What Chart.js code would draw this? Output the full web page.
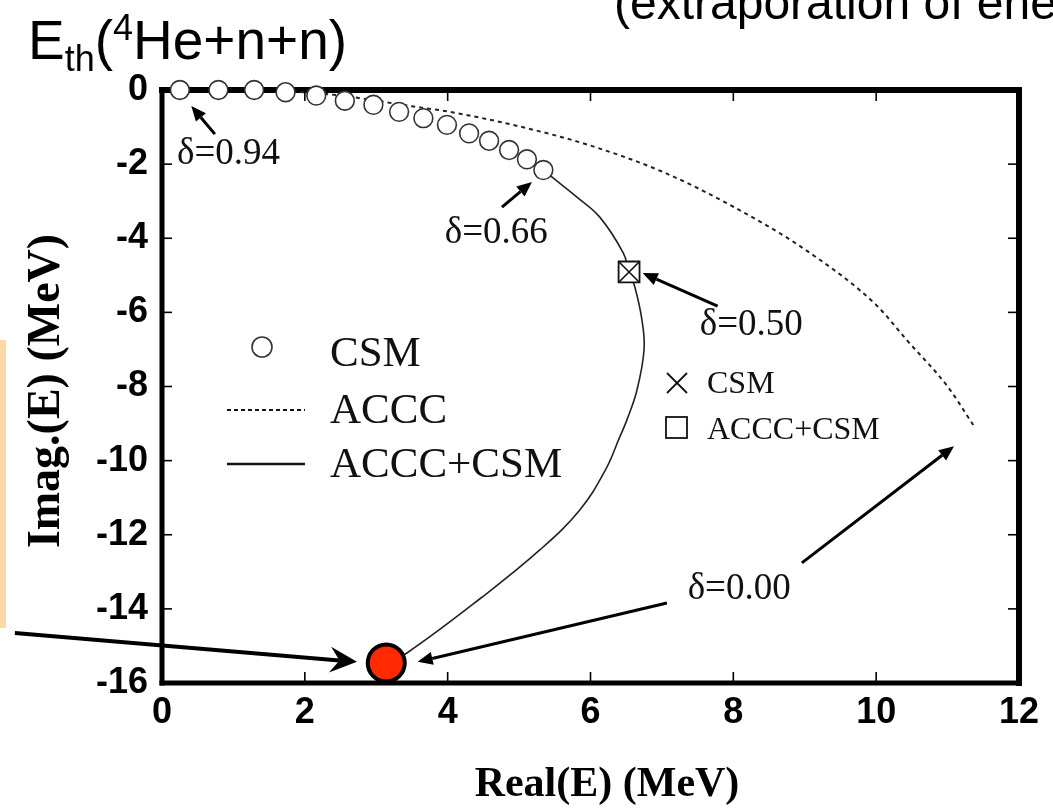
<!DOCTYPE html>
<html>
<head>
<meta charset="utf-8">
<script src="https://cdn.jsdelivr.net/npm/chart.js@4/dist/chart.umd.min.js"></script>
<style>
  html, body { margin: 0; padding: 0; background: #fff; }
  #wrap { width: 1053px; height: 812px; position: relative; }
</style>
</head>
<body>
<div id="wrap"><canvas id="c" width="1053" height="812"></canvas></div>
<script>
// Complex-energy trajectory of the 6He 2+ resonance (Re E, Im E in MeV)

// CSM eigenvalues for decreasing delta
const csmRe = [0.25, 0.79, 1.29, 1.73, 2.16, 2.56, 2.96, 3.32, 3.66, 3.99, 4.30, 4.58, 4.86, 5.11, 5.34];
const csmIm = [0.00, 0.00, 0.00, -0.06, -0.15, -0.29, -0.40, -0.59, -0.76, -0.94, -1.17, -1.37, -1.62, -1.87, -2.16];

// ACCC extrapolation (dotted)
const acccRe = [1.60, 2.50, 3.50, 4.00, 5.00, 6.00, 7.00, 8.00, 9.00, 10.00, 10.43, 11.00, 11.36];
const acccIm = [0.00, -0.15, -0.44, -0.58, -0.98, -1.50, -2.20, -3.15, -4.30, -5.80, -6.75, -8.00, -9.04];

// ACCC+CSM extrapolation (solid)
const acccCsmRe = [5.34, 5.48, 5.81, 6.13, 6.46, 6.54, 6.62, 6.72, 6.75, 6.65, 6.51, 6.41, 6.21, 5.85, 5.29, 4.47, 3.43, 3.14];
const acccCsmIm = [-2.16, -2.38, -2.89, -3.43, -4.40, -4.91, -5.31, -6.20, -7.00, -8.10, -8.90, -9.36, -10.25, -11.33, -12.41, -13.70, -15.19, -15.46];

// delta = 0.50 point (CSM and ACCC+CSM coincide)
const halfRe = [6.54];
const halfIm = [-4.91];

// delta = 0.00 resonance pole
const poleRe = [3.14];
const poleIm = [-15.46];

// tick labels
const xTicks = [0, 2, 4, 6, 8, 10, 12];
const yTicks = [0, -2, -4, -6, -8, -10, -12, -14, -16];

const toPts = (xs, ys) => xs.map((x, i) => ({ x: x, y: ys[i] }));

// delta labels and arrows, in data units
const deltaLabels = [
  { text: 'δ=0.94', x: 0.21, y: -2.00 },
  { text: 'δ=0.66', x: 3.96, y: -4.13 },
  { text: 'δ=0.50', x: 7.53, y: -6.61 },
  { text: 'δ=0.00', x: 7.36, y: -13.73 }
];
const deltaArrows = [
  { from: [0.74, -1.19], to: [0.41, -0.43] },
  { from: [4.76, -3.16], to: [5.18, -2.48] },
  { from: [7.78, -5.83], to: [6.73, -4.94] },
  { from: [7.07, -13.84], to: [3.58, -15.43] },
  { from: [8.96, -12.76], to: [11.09, -9.61] }
];
const poleArrow = { from: [-2.06, -14.65], to: [2.73, -15.43] };

const SERIF = '"Liberation Serif", "Times New Roman", serif';
const SANS = '"Liberation Sans", Arial, sans-serif';

function seg(ctx, x1, y1, x2, y2) {
  ctx.beginPath(); ctx.moveTo(x1, y1); ctx.lineTo(x2, y2); ctx.stroke();
}

function arrow(ctx, x1, y1, x2, y2, lw, len, half, notch) {
  const a = Math.atan2(y2 - y1, x2 - x1);
  const c = Math.cos(a), s = Math.sin(a);
  const bx = x2 - len * c, by = y2 - len * s;
  const nx = x2 - len * (1 - notch) * c, ny = y2 - len * (1 - notch) * s;
  const px = -s, py = c;
  ctx.lineWidth = lw;
  seg(ctx, x1, y1, nx, ny);
  ctx.beginPath();
  ctx.moveTo(x2, y2);
  ctx.lineTo(bx + px * half, by + py * half);
  ctx.lineTo(nx, ny);
  ctx.lineTo(bx - px * half, by - py * half);
  ctx.closePath();
  ctx.fill();
}

const decorPlugin = {
  id: 'decor',
  beforeDraw(chart) {
    const ctx = chart.ctx;
    ctx.save();
    ctx.fillStyle = '#ffffff';
    ctx.fillRect(0, 0, chart.width, chart.height);
    // edge of the neighbouring panel box
    ctx.fillStyle = '#fed8aa';
    ctx.fillRect(0, 340, 6, 288);
    ctx.restore();
  },
  beforeDatasetsDraw(chart) {
    const { ctx, chartArea: a, scales: { x, y } } = chart;
    ctx.save();
    ctx.strokeStyle = '#000';
    ctx.lineWidth = 1.6;
    xTicks.slice(1, -1).forEach(v => {
      const p = x.getPixelForValue(v);
      seg(ctx, p, a.bottom, p, a.bottom - 11);
      seg(ctx, p, a.top, p, a.top + 11);
    });
    yTicks.slice(1, -1).forEach(v => {
      const p = y.getPixelForValue(v);
      seg(ctx, a.left, p, a.left + 10, p);
      seg(ctx, a.right, p, a.right - 11, p);
    });
    ctx.lineCap = 'square';
    ctx.lineWidth = 5;
    seg(ctx, a.left, a.top, a.left, a.bottom);
    seg(ctx, a.left, a.bottom, a.right, a.bottom);
    ctx.lineWidth = 6;
    seg(ctx, a.left, a.top, a.right, a.top);
    seg(ctx, a.right, a.top, a.right, a.bottom);
    ctx.restore();
  },
  afterDatasetsDraw(chart) {
    const { ctx, chartArea: a, scales: { x, y } } = chart;
    const X = v => x.getPixelForValue(v);
    const Y = v => y.getPixelForValue(v);
    ctx.save();
    ctx.fillStyle = '#000';
    ctx.strokeStyle = '#000';

    // delta annotations
    ctx.font = '37px ' + SERIF;
    ctx.fillStyle = '#111';
    ctx.textBaseline = 'alphabetic';
    ctx.textAlign = 'left';
    deltaLabels.forEach(l => ctx.fillText(l.text, X(l.x), Y(l.y)));
    ctx.fillStyle = '#000';
    deltaArrows.forEach(r => arrow(ctx, X(r.from[0]), Y(r.from[1]), X(r.to[0]), Y(r.to[1]), 3, 15, 6.5, 0));
    arrow(ctx, X(poleArrow.from[0]), Y(poleArrow.from[1]), X(poleArrow.to[0]), Y(poleArrow.to[1]), 4, 27, 13, 0.35);

    // main legend
    const lx = a.left, ly = a.top;
    ctx.lineWidth = 1.6;
    ctx.strokeStyle = '#333';
    ctx.fillStyle = '#fff';
    ctx.beginPath(); ctx.arc(lx + 100, ly + 257, 10, 0, Math.PI * 2); ctx.fill(); ctx.stroke();
    ctx.strokeStyle = '#111';
    ctx.lineWidth = 2;
    ctx.setLineDash([4, 3]);
    seg(ctx, lx + 65, ly + 320, lx + 143, ly + 320);
    ctx.setLineDash([]);
    ctx.lineWidth = 2.5;
    seg(ctx, lx + 65, ly + 374, lx + 143, ly + 374);
    ctx.fillStyle = '#111';
    ctx.font = '43px ' + SERIF;
    ctx.fillText('CSM', lx + 168, ly + 276);
    ctx.fillText('ACCC', lx + 168, ly + 333);
    ctx.fillText('ACCC+CSM', lx + 168, ly + 387);

    // legend for the delta = 0.50 markers
    ctx.strokeStyle = '#111';
    ctx.lineWidth = 1.8;
    const cx = lx + 515, cy = ly + 293;
    seg(ctx, cx - 10, cy - 10, cx + 10, cy + 10);
    seg(ctx, cx - 10, cy + 10, cx + 10, cy - 10);
    ctx.strokeRect(lx + 504, ly + 327, 21, 21);
    ctx.font = '32px ' + SERIF;
    ctx.fillText('CSM', lx + 545, ly + 303);
    ctx.fillText('ACCC+CSM', lx + 545, ly + 349);

    // axis titles
    ctx.fillStyle = '#000';
    ctx.font = 'bold 42px ' + SERIF;
    ctx.textAlign = 'center';
    ctx.textBaseline = 'middle';
    ctx.fillText('Real(E) (MeV)', 607, 785);
    ctx.save();
    ctx.translate(47, 391);
    ctx.rotate(-Math.PI / 2);
    ctx.font = 'bold 46px ' + SERIF;
    ctx.fillText('Imag.(E) (MeV)', 0, 0);
    ctx.restore();

    // threshold label above the frame
    ctx.textAlign = 'left';
    ctx.textBaseline = 'alphabetic';
    let tx = 28;
    const big = '55px ' + SANS, small = '36px ' + SANS;
    ctx.font = big; ctx.fillText('E', tx, 59); tx += ctx.measureText('E').width;
    ctx.font = small; ctx.fillText('th', tx, 71); tx += ctx.measureText('th').width;
    ctx.font = big; ctx.fillText('(', tx, 59); tx += ctx.measureText('(').width;
    ctx.font = small; ctx.fillText('4', tx, 40); tx += ctx.measureText('4').width;
    ctx.font = big; ctx.fillText('He+n+n)', tx, 59);

    ctx.font = '48px ' + SANS;
    ctx.fillText('(extraporation of energy)', 614, 19);
    ctx.restore();
  }
};

new Chart(document.getElementById('c'), {
  type: 'scatter',
  data: {
    datasets: [
      {
        label: 'δ=0.00 pole',
        data: toPts(poleRe, poleIm),
        pointRadius: 18.5,
        pointBackgroundColor: '#ff2a00',
        pointBorderColor: '#000',
        pointBorderWidth: 4,
        showLine: false,
        clip: false,
        order: 0
      },
      {
        label: 'CSM δ=0.50',
        data: toPts(halfRe, halfIm),
        pointStyle: 'crossRot',
        pointRadius: 14.5,
        pointBorderColor: '#111',
        pointBorderWidth: 1.6,
        showLine: false,
        order: 1
      },
      {
        label: 'ACCC+CSM δ=0.50',
        data: toPts(halfRe, halfIm),
        pointStyle: 'rect',
        pointRadius: 14.8,
        pointBackgroundColor: '#fff',
        pointBorderColor: '#111',
        pointBorderWidth: 1.8,
        showLine: false,
        order: 2
      },
      {
        label: 'CSM',
        data: toPts(csmRe, csmIm),
        pointRadius: 9.4,
        pointBackgroundColor: '#fff',
        pointBorderColor: '#333',
        pointBorderWidth: 1.6,
        showLine: false,
        clip: false,
        order: 3
      },
      {
        label: 'ACCC+CSM',
        type: 'line',
        data: toPts(acccCsmRe, acccCsmIm),
        borderColor: '#222',
        borderWidth: 1.6,
        pointRadius: 0,
        tension: 0.4,
        fill: false,
        order: 4
      },
      {
        label: 'ACCC',
        type: 'line',
        data: toPts(acccRe, acccIm),
        borderColor: '#222',
        borderWidth: 2,
        borderDash: [4, 4],
        pointRadius: 0,
        cubicInterpolationMode: 'monotone',
        fill: false,
        order: 5
      }
    ]
  },
  options: {
    responsive: false,
    animation: false,
    devicePixelRatio: 1,
    layout: { padding: { left: 0, right: 34, top: 90, bottom: 0 } },
    plugins: { legend: { display: false }, tooltip: { enabled: false } },
    scales: {
      x: {
        type: 'linear',
        min: 0, max: 12,
        afterBuildTicks: s => { s.ticks = xTicks.map(v => ({ value: v })); },
        afterFit: s => { s.height = 129; },
        grid: { display: false, drawTicks: false },
        border: { display: false },
        ticks: { padding: 8, color: '#000', maxRotation: 0, autoSkip: false,
                 font: { family: SANS, size: 36, weight: 'bold' } }
      },
      y: {
        type: 'linear',
        min: -16, max: 0,
        afterBuildTicks: s => { s.ticks = yTicks.map(v => ({ value: v })); },
        afterFit: s => { s.width = 162; },
        grid: { display: false, drawTicks: false },
        border: { display: false },
        ticks: { padding: 14, color: '#000', autoSkip: false,
                 font: { family: SANS, size: 36, weight: 'bold' } }
      }
    }
  },
  plugins: [decorPlugin]
});
</script>
</body>
</html>
